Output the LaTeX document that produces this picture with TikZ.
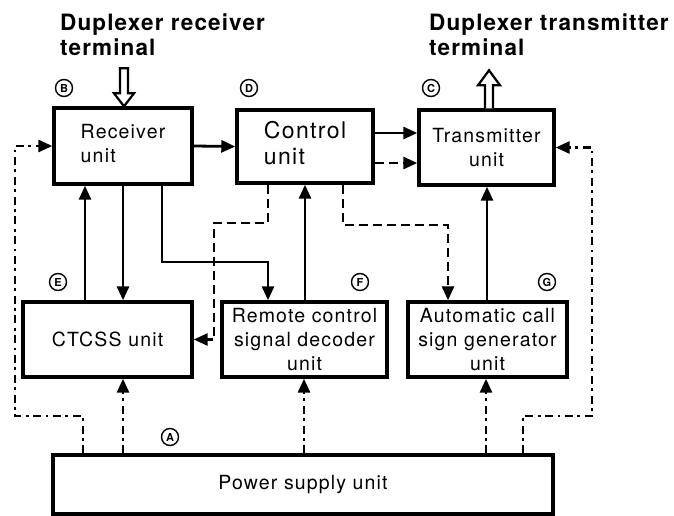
\documentclass[tikz,border=0pt]{standalone}
\usepackage{fontspec}
\setmainfont[LetterSpace=6]{TeX Gyre Heros}
\newfontfamily\headfont[LetterSpace=5]{TeX Gyre Heros}
\newfontfamily\circfont{TeX Gyre Heros}
\usetikzlibrary{arrows.meta,calc}
\begin{document}
\begin{tikzpicture}[x=1pt,y=-1pt,
  unitbox/.style={draw,line width=3.4pt,minimum width=#1,inner sep=0pt,align=center,font=\fontsize{19.5}{24}\selectfont},
  conn/.style={line width=2.8pt,-{Triangle[length=14pt,width=12pt]}},
  dashconn/.style={conn,dash pattern=on 9pt off 5pt},
  ddconn/.style={conn,dash pattern=on 8pt off 4.5pt on 2.8pt off 4.5pt},
  tag/.style={circle,draw,line width=1.4pt,inner sep=0pt,minimum size=17pt,font=\circfont\bfseries\fontsize{11}{11}\selectfont},
  head/.style={anchor=north west,align=left,inner sep=0pt,font=\headfont\bfseries\fontsize{22.5}{25}\selectfont},
  hollow/.style={draw,line width=2.2pt,fill=white,line join=miter}]
\useasboundingbox (0,0) rectangle (674,516);
% headings
\node[head] (hr) at (60,14) {Duplexer receiver\\terminal};
\node[head] (ht) at (429,14) {Duplexer transmitter\\terminal};
% units
\node[unitbox=138pt,minimum height=76pt] (rec) at (123,146) {\begin{tabular}{@{}l@{}}Receiver\\unit\end{tabular}};
\node[unitbox=136pt,minimum height=73pt,font=\fontsize{23}{25}\selectfont] (ctl) at (305,146.5) {\begin{tabular}{@{}l@{}}Control\\unit\end{tabular}};
\node[unitbox=135pt,minimum height=75pt] (tx) at (486.5,147.5) {Transmitter\\unit};
\node[unitbox=169pt,minimum height=75pt] (ctc) at (107.5,339.5) {CTCSS unit};
\node[unitbox=165pt,minimum height=75pt] (rem) at (304.5,339.5) {Remote control\\signal decoder\\unit};
\node[unitbox=159pt,minimum height=75pt] (aut) at (487.5,339.5) {Automatic call\\sign generator\\unit};
\node[unitbox=500pt,minimum height=59pt] (pwr) at (303,484.5) {Power supply unit};
% tags
\node[tag] (tA) at (170,437) {A};
\node[tag] (tB) at (64,88) {B};
\node[tag] (tC) at (431,88) {C};
\node[tag] (tD) at (249,88) {D};
\node[tag] (tE) at (58,282) {E};
\node[tag] (tF) at (360,282) {F};
\node[tag] (tG) at (547,282) {G};
% duplexer arrows
\draw[hollow] (124,0 |- rec.north) -- ++(-10,-13) -- ++(6,0) -- ++(0,-25) -- ++(8,0) -- ++(0,25) -- ++(6,0) -- cycle;
\draw[hollow] (489,0 |- tx.north) ++(-4,0) -- ++(0,-23) -- ++(-7,0) -- ++(11,-15) -- ++(11,15) -- ++(-7,0) -- ++(0,23);
% solid connectors
\draw[conn] (rec.east) -- (ctl.west);
\draw[conn] (ctl.east |- 0,133) -- (tx.west |- 0,133);
\draw[dashconn] (ctl.east |- 0,163) -- (tx.west |- 0,163);
\draw[conn] (85,0 |- ctc.north) -- (85,0 |- rec.south);
\draw[conn] (123,0 |- rec.south) -- (123,0 |- ctc.north);
\coordinate (rr) at (268,262);
\draw[conn] (162,0 |- rec.south) |- (rr) -- (268,0 |- rem.north);
\draw[conn] (305,0 |- rem.north) -- (305,0 |- ctl.south);
\draw[conn] (487,0 |- aut.north) -- (487,0 |- tx.south);
% dashed connectors
\coordinate (dl) at (214,223);
\draw[dashconn] (268,0 |- ctl.south) |- (dl) |- (ctc.east);
\coordinate (dr) at (448,225);
\draw[dashconn] (343,0 |- ctl.south) |- (dr) -- (448,0 |- aut.north);
% power connectors
\coordinate (lc) at (15,416);
\coordinate (rc) at (592,416);
\draw[ddconn] (83,0 |- pwr.north) |- (lc) |- (rec.west);
\draw[ddconn] (523,0 |- pwr.north) |- (rc) |- (tx.east);
\draw[ddconn] (123,0 |- pwr.north) -- (123,0 |- ctc.south);
\draw[ddconn] (304,0 |- pwr.north) -- (304,0 |- rem.south);
\draw[ddconn] (486,0 |- pwr.north) -- (486,0 |- aut.south);
\end{tikzpicture}
\end{document}
